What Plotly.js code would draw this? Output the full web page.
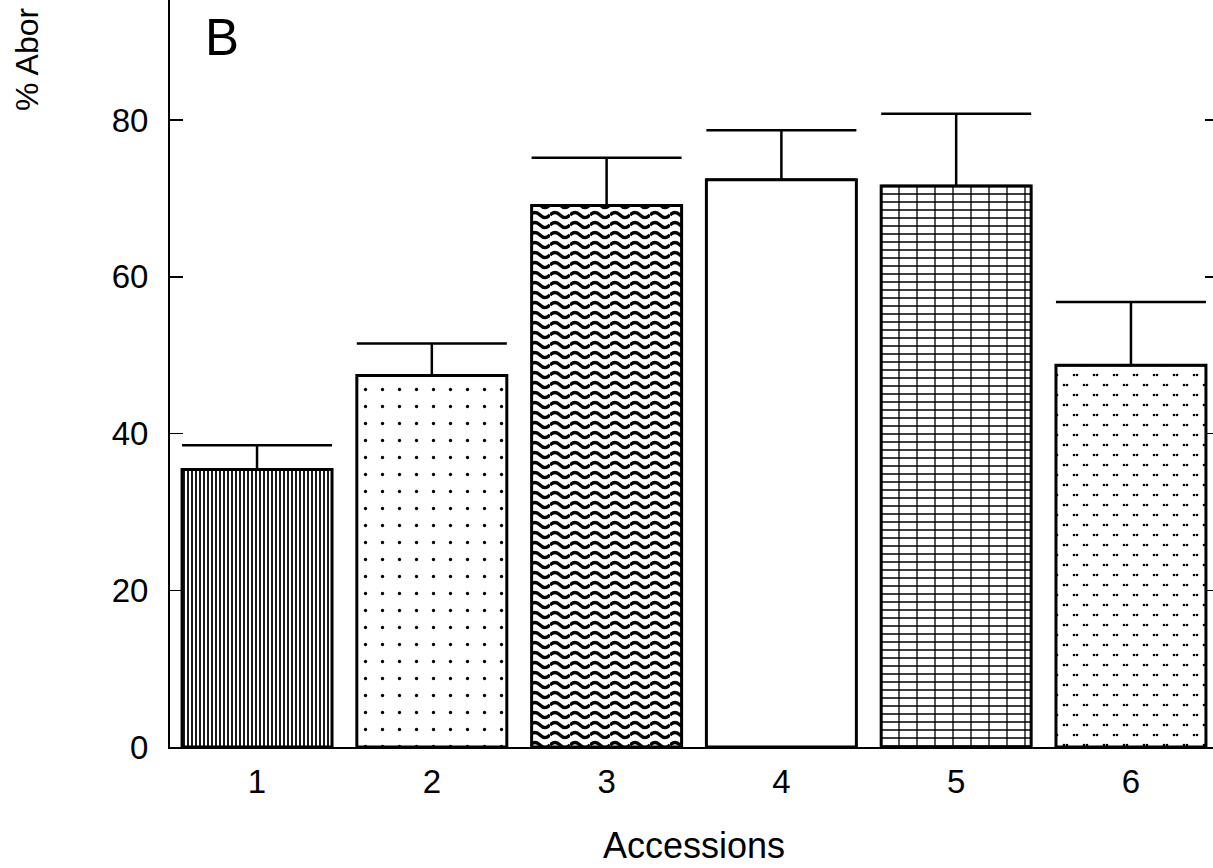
<!DOCTYPE html>
<html>
<head>
<meta charset="utf-8">
<script src="https://cdn.plot.ly/plotly-3.0.1.min.js"></script>
<style>
  html, body { margin: 0; padding: 0; overflow: hidden; background: #fff; width: 1213px; height: 868px; }
  #chart { position: absolute; left: 0; top: -10px; width: 1222px; height: 878px; }
</style>
</head>
<body>
<div id="chart"></div>
<script>
// Data
const accessions = [1, 2, 3, 4, 5, 6];
const tickLabels = ['1', '2', '3', '4', '5', '6'];
const abortionPct = [35.4, 47.4, 69.1, 72.4, 71.6, 48.7];
const abortionErr = [3.1, 4.1, 6.1, 6.3, 9.2, 8.1];
const yTicks = [0, 20, 40, 60, 80];

// Fill patterns (style only)
const patShapes = ['|', '.', '-', '', '+', '.'];
const patSizes = [4, 17, 10, 8, 8, 13];
const patSolid = [0.45, 0.03, 0.32, 0.1, 0.2, 0.05];

const FONT = 'Liberation Sans, Arial, Helvetica, sans-serif';

const trace = {
  type: 'bar',
  x: accessions,
  y: abortionPct,
  width: 0.858,
  marker: {
    color: 'white',
    line: { color: 'black', width: 3 },
    pattern: {
      shape: patShapes,
      size: patSizes,
      solidity: patSolid,
      fgcolor: 'black',
      bgcolor: 'white',
      fillmode: 'replace'
    }
  },
  error_y: {
    type: 'data',
    symmetric: false,
    array: abortionErr,
    arrayminus: accessions.map(() => 0),
    color: 'black',
    thickness: 2.5,
    width: 75
  },
  hoverinfo: 'skip'
};

const layout = {
  width: 1222,
  height: 878,
  margin: { l: 170, r: 4, t: 0, b: 121 },
  paper_bgcolor: 'white',
  plot_bgcolor: 'white',
  showlegend: false,
  font: { family: FONT, color: 'black', size: 33 },
  xaxis: {
    range: [0.502, 6.498],
    tickvals: accessions,
    ticktext: tickLabels,
    ticks: '',
    showgrid: false,
    zeroline: false,
    showline: true,
    linecolor: 'black',
    linewidth: 2,
    mirror: false,
    ticklabelstandoff: 4,
    tickfont: { size: 33, family: FONT, color: 'black' }
  },
  yaxis: {
    range: [0, 96.6],
    tickvals: yTicks,
    ticks: 'inside',
    ticklen: 13,
    tickwidth: 1.5,
    tickcolor: 'black',
    showgrid: false,
    zeroline: false,
    showline: true,
    linecolor: 'black',
    linewidth: 2,
    mirror: 'ticks',
    ticklabelstandoff: 13,
    tickfont: { size: 33, family: FONT, color: 'black' }
  },
  annotations: [
    {
      text: 'B', xref: 'paper', yref: 'paper', x: 0, y: 1,
      xanchor: 'center', yanchor: 'middle',
      xshift: 52, yshift: -47, showarrow: false,
      font: { size: 51, family: FONT, color: 'black' }
    },
    {
      text: '% Abor', xref: 'paper', yref: 'paper', x: 0, y: 0,
      xanchor: 'center', yanchor: 'bottom', textangle: -90,
      xshift: -143, yshift: 634, showarrow: false,
      font: { size: 32, family: FONT, color: 'black' }
    },
    {
      text: 'Accessions', xref: 'paper', yref: 'paper', x: 0.5, y: 0,
      xanchor: 'center', yanchor: 'middle',
      yshift: -98, showarrow: false,
      font: { size: 36, family: FONT, color: 'black' }
    }
  ]
};

// Custom tile styles for the fills Plotly has no built-in shape for
const NS = 'http://www.w3.org/2000/svg';
const customTiles = {
  2: { w: 20, h: 10, d: 'M0,5 Q5,0 10,5 T20,5', sw: 3.2 },            // wavy lines
  4: { w: 18, h: 8, d: 'M0,4H18M9,0V8', sw: 1.3 },                      // ruled grid
  5: { w: 20, h: 20, dots: [[4,5],[7,5],[14,15],[17,15]], r: 1.3 }      // paired dots
};

function restyleTiles() {
  const pts = document.querySelectorAll('#chart .trace.bars .point path');
  pts.forEach((p, i) => {
    const t = customTiles[i];
    if (!t) return;
    const m = (p.getAttribute('style') || '').match(/url\(['"]?#([^'")]+)['"]?\)/) ||
              (p.getAttribute('fill') || '').match(/url\(['"]?#([^'")]+)['"]?\)/);
    if (!m) return;
    const pat = document.getElementById(m[1]);
    if (!pat) return;
    pat.setAttribute('width', t.w);
    pat.setAttribute('height', t.h);
    while (pat.firstChild) pat.removeChild(pat.firstChild);
    const bg = document.createElementNS(NS, 'rect');
    bg.setAttribute('width', t.w); bg.setAttribute('height', t.h); bg.setAttribute('fill', 'white');
    pat.appendChild(bg);
    if (t.d) {
      const path = document.createElementNS(NS, 'path');
      path.setAttribute('d', t.d);
      path.setAttribute('fill', 'none');
      path.setAttribute('stroke', 'black');
      path.setAttribute('stroke-width', t.sw);
      pat.appendChild(path);
    }
    if (t.dots) {
      t.dots.forEach(([cx, cy]) => {
        const c = document.createElementNS(NS, 'circle');
        c.setAttribute('cx', cx); c.setAttribute('cy', cy); c.setAttribute('r', t.r);
        c.setAttribute('fill', 'black');
        pat.appendChild(c);
      });
    }
  });
}

Plotly.newPlot('chart', [trace], layout, { staticPlot: true, displayModeBar: false })
  .then(restyleTiles);
</script>
</body>
</html>
